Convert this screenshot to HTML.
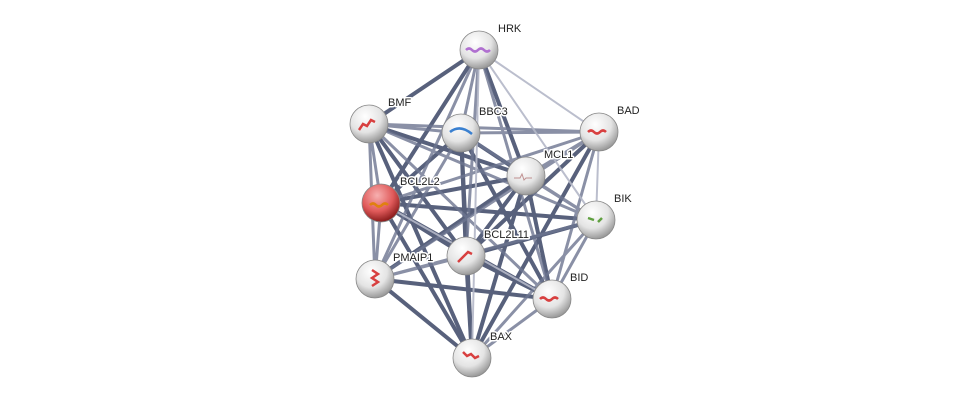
<!DOCTYPE html>
<html><head><meta charset="utf-8"><style>
html,body{margin:0;padding:0;background:#fff;}
svg{display:block;}
text{font-family:"Liberation Sans",sans-serif;font-size:11px;fill:#222;paint-order:stroke;stroke:#fff;stroke-width:3px;stroke-linejoin:round;}
</style></head><body>
<svg width="976" height="403" viewBox="0 0 976 403">
<defs>
<radialGradient id="g" cx="40%" cy="30%" r="70%">
<stop offset="0" stop-color="#fff"/><stop offset="0.6" stop-color="#e4e4e4"/><stop offset="1" stop-color="#9a9a9a"/>
</radialGradient>
<radialGradient id="r" cx="40%" cy="30%" r="70%">
<stop offset="0" stop-color="#f7b0b0"/><stop offset="0.6" stop-color="#e05a5a"/><stop offset="1" stop-color="#8a1c1c"/>
</radialGradient>
</defs>
<g stroke-linecap="round">
<g stroke="#3b4666" stroke-width="4" opacity="0.85">
<line x1="381" y1="203" x2="526" y2="176"/><line x1="381" y1="203" x2="596" y2="220"/><line x1="381" y1="203" x2="466" y2="256"/>
<line x1="381" y1="203" x2="472" y2="358"/><line x1="381" y1="203" x2="552" y2="299"/><line x1="381" y1="203" x2="461" y2="133"/>
<line x1="526" y1="176" x2="466" y2="256"/><line x1="526" y1="176" x2="472" y2="358"/><line x1="526" y1="176" x2="552" y2="299"/>
<line x1="526" y1="176" x2="375" y2="279"/><line x1="526" y1="176" x2="369" y2="124"/><line x1="526" y1="176" x2="461" y2="133"/>
<line x1="466" y1="256" x2="472" y2="358"/><line x1="466" y1="256" x2="596" y2="220"/><line x1="466" y1="256" x2="552" y2="299"/>
<line x1="479" y1="50" x2="369" y2="124"/><line x1="479" y1="50" x2="381" y2="203"/><line x1="479" y1="50" x2="526" y2="176"/>
<line x1="461" y1="133" x2="466" y2="256"/><line x1="461" y1="133" x2="472" y2="358"/><line x1="461" y1="133" x2="552" y2="299"/>
<line x1="375" y1="279" x2="472" y2="358"/><line x1="375" y1="279" x2="552" y2="299"/><line x1="599" y1="132" x2="466" y2="256"/>
<line x1="599" y1="132" x2="472" y2="358"/><line x1="369" y1="124" x2="466" y2="256"/><line x1="369" y1="124" x2="472" y2="358"/>
</g>
<g stroke="#6d7590" stroke-width="3" opacity="0.8">
<line x1="479" y1="50" x2="461" y2="133"/><line x1="479" y1="50" x2="466" y2="256"/><line x1="479" y1="50" x2="375" y2="279"/>
<line x1="479" y1="50" x2="552" y2="299"/><line x1="369" y1="124" x2="461" y2="133"/><line x1="369" y1="124" x2="599" y2="132"/>
<line x1="369" y1="124" x2="375" y2="279"/><line x1="369" y1="124" x2="381" y2="203"/><line x1="369" y1="124" x2="552" y2="299"/>
<line x1="461" y1="133" x2="599" y2="132"/><line x1="461" y1="133" x2="596" y2="220"/><line x1="461" y1="133" x2="375" y2="279"/>
<line x1="599" y1="132" x2="526" y2="176"/><line x1="599" y1="132" x2="381" y2="203"/><line x1="599" y1="132" x2="375" y2="279"/>
<line x1="599" y1="132" x2="552" y2="299"/><line x1="526" y1="176" x2="596" y2="220"/><line x1="381" y1="203" x2="375" y2="279"/>
<line x1="596" y1="220" x2="375" y2="279"/><line x1="596" y1="220" x2="472" y2="358"/><line x1="596" y1="220" x2="552" y2="299"/>
<line x1="466" y1="256" x2="375" y2="279"/><line x1="552" y1="299" x2="472" y2="358"/><line x1="369" y1="124" x2="596" y2="220"/>
</g>
<g stroke="#b4b8c8" stroke-width="2" opacity="0.9">
<line x1="479" y1="50" x2="599" y2="132"/><line x1="479" y1="50" x2="596" y2="220"/><line x1="479" y1="50" x2="472" y2="358"/>
<line x1="599" y1="132" x2="596" y2="220"/><line x1="381" y1="203" x2="552" y2="299"/>
</g>
</g>
<g stroke="#888" stroke-width="0.8">
<circle cx="479" cy="50" r="19" fill="url(#g)"/>
<circle cx="369" cy="124" r="19" fill="url(#g)"/>
<circle cx="461" cy="133" r="19" fill="url(#g)"/>
<circle cx="599" cy="132" r="19" fill="url(#g)"/>
<circle cx="526" cy="176" r="19" fill="url(#g)"/>
<circle cx="381" cy="203" r="19" fill="url(#r)"/>
<circle cx="596" cy="220" r="19" fill="url(#g)"/>
<circle cx="466" cy="256" r="19" fill="url(#g)"/>
<circle cx="375" cy="279" r="19" fill="url(#g)"/>
<circle cx="552" cy="299" r="19" fill="url(#g)"/>
<circle cx="472" cy="358" r="19" fill="url(#g)"/>
</g>
<g stroke-width="2.5" fill="none">
<path d="M466 50 q3 -3 6 0 t6 0 t6 0 t6 0" stroke="#b070d0"/>
<path d="M359 130 l4 -6 l4 2 l4 -6 l4 2" stroke="#d84040"/>
<path d="M450 132 q10 -8 22 2" stroke="#3a80d0"/>
<path d="M588 132 q3 -3 6 0 t6 0 t6 0" stroke="#d84040"/>
<path d="M514 178 l6 0 l2 -4 l2 6 l2 -2 l6 0" stroke="#c09090" stroke-width="1"/>
<path d="M370 205 q3 -3 6 0 t6 0 t6 0" stroke="#e08010"/>
<path d="M588 218 l6 2 M598 222 l4 -4" stroke="#60a040"/>
<path d="M458 262 l10 -10 l4 2" stroke="#d84040"/>
<path d="M372 270 l6 4 l-6 4 l6 4 l-6 4" stroke="#d84040"/>
<path d="M540 299 q3 -3 6 0 t6 0 t6 0" stroke="#d84040"/>
<path d="M463 352 l4 4 l4 -2 l4 4 l4 -2" stroke="#d84040"/>
</g>
<text x="498" y="32">HRK</text>
<text x="388" y="106">BMF</text>
<text x="479" y="115">BBC3</text>
<text x="617" y="114">BAD</text>
<text x="544" y="158">MCL1</text>
<text x="400" y="185">BCL2L2</text>
<text x="614" y="202">BIK</text>
<text x="484" y="238">BCL2L11</text>
<text x="393" y="261">PMAIP1</text>
<text x="570" y="281">BID</text>
<text x="490" y="340">BAX</text>
</svg>
</body></html>
